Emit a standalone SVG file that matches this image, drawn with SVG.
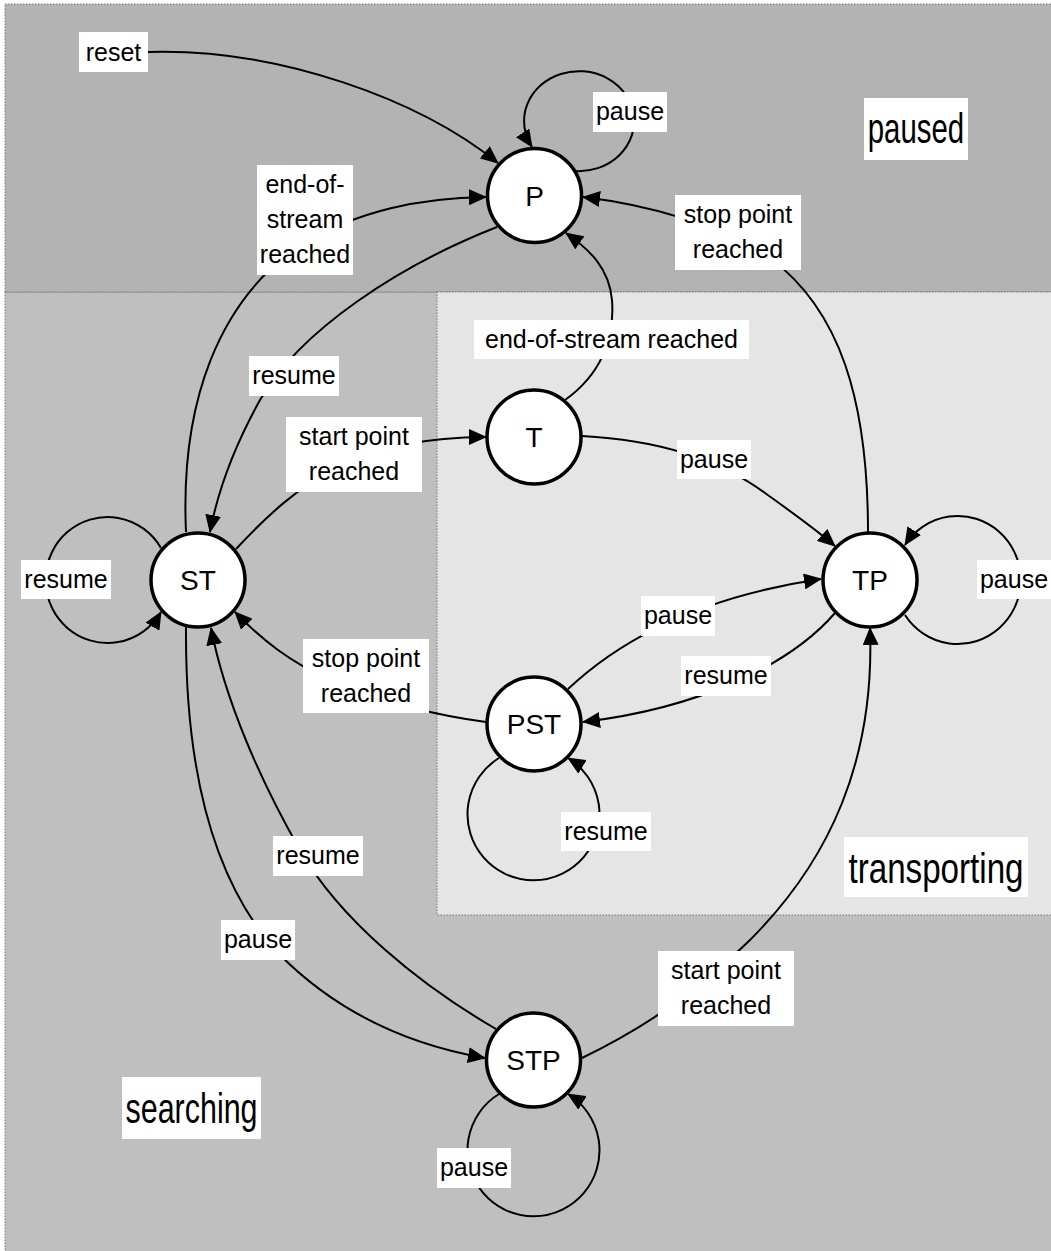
<svg xmlns="http://www.w3.org/2000/svg" width="1051" height="1251" viewBox="0 0 1051 1251">
  <style>
    .region { stroke: #777; stroke-width: 1; stroke-dasharray: 1.5 1.5; }
    .edge { fill: none; stroke: #000; stroke-width: 2; marker-end: url(#arrow); }
    .node circle { fill: #fff; stroke: #000; stroke-width: 3.5; }
    .node text { font-family: "Liberation Sans", Arial, sans-serif; font-size: 28px; text-anchor: middle; fill: #000; }
    .lbl rect { fill: #fff; }
    .lbl text { font-family: "Liberation Sans", Arial, sans-serif; font-size: 25px; text-anchor: middle; fill: #000; }
    .area rect { fill: #fff; }
    .area text { font-family: "Liberation Sans", Arial, sans-serif; font-size: 42px; text-anchor: middle; fill: #000; }
  </style>
  <defs>
    <marker id="arrow" viewBox="0 0 18 16" refX="17" refY="8" markerWidth="18" markerHeight="16" markerUnits="userSpaceOnUse" orient="auto">
      <path d="M0,0 L18,8 L0,16 z" fill="#000"/>
    </marker>
  </defs>

  <rect width="1051" height="1251" fill="#fff"/>

  <!-- state groups (clusters) -->
  <g id="clusters">
    <rect id="cluster-searching" class="region" x="5" y="292" width="1050" height="962" fill="#bfbfbf"/>
    <rect id="cluster-paused" class="region" x="5" y="4" width="1050" height="288" fill="#b3b3b3"/>
    <rect id="cluster-transporting" class="region" x="437" y="292" width="618" height="623" fill="#e5e5e5"/>
  </g>

  <!-- transitions -->
  <g id="connectors">
    <path id="e-reset" class="edge" d="M148,52 C280,48 420,100 498,163"/>
    <path id="e-P-P" class="edge" d="M575,171 A55 50 0 1 0 532,147"/>
    <path id="e-ST-P" class="edge" d="M186,532 C180,400 220,300 300,245 C360,210 420,198 486,197"/>
    <path id="e-P-ST" class="edge" d="M497,227 C400,265 300,330 260,400 C235,445 218,490 210,532"/>
    <path id="e-ST-T" class="edge" d="M236,549 C300,480 360,437 486,437"/>
    <path id="e-T-P" class="edge" d="M565,400 C600,375 615,340 612,300 C609,268 590,250 566,233"/>
    <path id="e-T-TP" class="edge" d="M582,436 C660,440 720,460 765,493 C800,518 820,533 835,546"/>
    <path id="e-TP-P" class="edge" d="M868,532 C868,400 840,310 770,258 C720,225 650,205 583,197"/>
    <path id="e-TP-TP" class="edge" d="M905,615 A63 64 0 1 0 905,545"/>
    <path id="e-ST-ST" class="edge" d="M161,548 A62 63 0 1 0 161,612"/>
    <path id="e-PST-TP" class="edge" d="M568,689 C620,640 700,597 821,579"/>
    <path id="e-TP-PST" class="edge" d="M835,613 C790,665 700,708 583,722"/>
    <path id="e-PST-PST" class="edge" d="M499,758 A66 66 0 1 0 568,758"/>
    <path id="e-PST-ST" class="edge" d="M486,722 C440,716 380,702 330,680 C290,662 262,640 235,612"/>
    <path id="e-ST-STP" class="edge" d="M186,627 C185,760 210,880 280,955 C340,1015 410,1045 485,1058"/>
    <path id="e-STP-ST" class="edge" d="M496,1029 C420,985 340,920 300,850 C260,780 225,700 211,628"/>
    <path id="e-STP-TP" class="edge" d="M582,1058 C640,1030 700,990 750,940 C830,860 875,760 870,628"/>
    <path id="e-STP-STP" class="edge" d="M499,1094 A66 66 0 1 0 568,1094"/>
  </g>

  <!-- transition labels -->
  <g id="edge-labels">
    <g class="lbl"><rect x="79" y="32" width="69" height="40"/><text x="113.5" y="61">reset</text></g>
    <g class="lbl"><rect x="257" y="165" width="96" height="110"/><text x="305" y="193">end-of-</text><text x="305" y="228">stream</text><text x="305" y="263">reached</text></g>
    <g class="lbl"><rect x="593" y="92" width="74" height="40"/><text x="630" y="120">pause</text></g>
    <g class="lbl"><rect x="675" y="195" width="126" height="75"/><text x="738" y="223">stop point</text><text x="738" y="258">reached</text></g>
    <g class="lbl"><rect x="474" y="320" width="275" height="39"/><text x="611.5" y="348">end-of-stream reached</text></g>
    <g class="lbl"><rect x="249" y="356" width="90" height="40"/><text x="294" y="384">resume</text></g>
    <g class="lbl"><rect x="286" y="417" width="136" height="75"/><text x="354" y="445">start point</text><text x="354" y="480">reached</text></g>
    <g class="lbl"><rect x="21" y="560" width="90" height="39"/><text x="66" y="588">resume</text></g>
    <g class="lbl"><rect x="677" y="440" width="74" height="39"/><text x="714" y="468">pause</text></g>
    <g class="lbl"><rect x="977" y="560" width="74" height="39"/><text x="1014" y="588">pause</text></g>
    <g class="lbl"><rect x="641" y="596" width="74" height="40"/><text x="678" y="624">pause</text></g>
    <g class="lbl"><rect x="681" y="656" width="90" height="40"/><text x="726" y="684">resume</text></g>
    <g class="lbl"><rect x="303" y="639" width="126" height="74"/><text x="366" y="667">stop point</text><text x="366" y="702">reached</text></g>
    <g class="lbl"><rect x="561" y="812" width="90" height="39"/><text x="606" y="840">resume</text></g>
    <g class="lbl"><rect x="273" y="836" width="90" height="40"/><text x="318" y="864">resume</text></g>
    <g class="lbl"><rect x="221" y="920" width="74" height="40"/><text x="258" y="948">pause</text></g>
    <g class="lbl"><rect x="658" y="951" width="136" height="75"/><text x="726" y="979">start point</text><text x="726" y="1014">reached</text></g>
    <g class="lbl"><rect x="437" y="1148" width="74" height="40"/><text x="474" y="1176">pause</text></g>
  </g>

  <!-- cluster titles (narrowed horizontally) -->
  <g id="cluster-labels">
    <g class="area"><rect x="864" y="98" width="104" height="62"/><text transform="translate(916,143) scale(0.7,1)">paused</text></g>
    <g class="area"><rect x="844" y="837" width="184" height="60"/><text transform="translate(936,883) scale(0.79,1)">transporting</text></g>
    <g class="area"><rect x="122" y="1077" width="139" height="62"/><text transform="translate(191.5,1123) scale(0.725,1)">searching</text></g>
  </g>

  <!-- states -->
  <g id="node-P" class="node"><circle cx="534.5" cy="195.5" r="47"/><text x="534.5" y="205.5">P</text></g>
  <g id="node-T" class="node"><circle cx="534" cy="437" r="47"/><text x="534" y="447">T</text></g>
  <g id="node-TP" class="node"><circle cx="870" cy="580" r="47"/><text x="870" y="590">TP</text></g>
  <g id="node-ST" class="node"><circle cx="198" cy="580" r="47"/><text x="198" y="590">ST</text></g>
  <g id="node-PST" class="node"><circle cx="534" cy="724" r="47"/><text x="534" y="734">PST</text></g>
  <g id="node-STP" class="node"><circle cx="533.5" cy="1060" r="47"/><text x="533.5" y="1070">STP</text></g>
</svg>
